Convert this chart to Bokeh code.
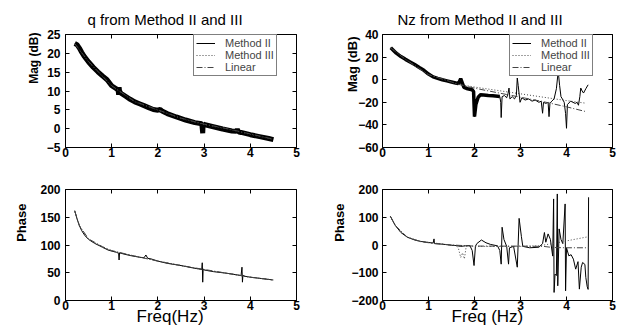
import math
from bokeh.plotting import figure
from bokeh.layouts import gridplot
from bokeh.models import (Legend, LegendItem, LinearAxis, Title, FixedTicker,
                          Range1d)
from bokeh.embed import file_html
from bokeh.resources import INLINE

FONT = "Liberation Sans"

# ---------------- data ----------------
freq_ticks = [0, 1, 2, 3, 4, 5]
q_mag_ticks = [-5, 0, 5, 10, 15, 20, 25]
nz_mag_ticks = [-60, -40, -20, 0, 20, 40]
q_ph_ticks = [0, 50, 100, 150, 200]
nz_ph_ticks = [-200, -100, 0, 100, 200]

# q magnitude (dB)
q_mag_f2 = [0.20, 0.25, 0.30, 0.35, 0.40, 0.50, 0.60, 0.70, 0.80, 0.90, 1.00,
            1.10, 1.14, 1.15, 1.16, 1.17, 1.20, 1.30, 1.40, 1.50, 1.60, 1.70,
            1.80, 1.90, 2.00, 2.05, 2.10, 2.20, 2.40, 2.60, 2.80, 2.95, 2.97,
            2.98, 3.00, 3.20, 3.40, 3.60, 3.70, 3.72, 3.75, 3.80, 4.00, 4.20,
            4.40, 4.50]
q_mag_m2 = [22.6, 22.3, 21.4, 20.3, 19.3, 17.7, 16.3, 15.1, 14.0, 13.0, 11.4,
            10.6, 10.2, 9.0, 11.0, 10.0, 9.4, 8.6, 7.8, 7.1, 6.6, 6.1,
            5.6, 5.1, 4.9, 5.1, 4.6, 4.0, 3.1, 2.3, 1.6, 1.3, -1.2,
            1.3, 1.1, 0.5, -0.1, -0.6, -0.7, -0.2, -0.9, -1.0, -1.6, -2.1,
            -2.6, -2.9]
q_mag_f3 = [0.2, 0.5, 1.0, 1.5, 2.0, 2.5, 3.0, 3.5, 4.0, 4.5]
q_mag_m3 = [22.5, 17.7, 11.3, 7.1, 4.9, 2.7, 1.1, -0.1, -1.5, -2.9]
q_mag_lin = [22.6, 17.8, 11.4, 7.2, 5.0, 2.8, 1.2, 0.0, -1.4, -2.8]

# Nz magnitude (dB)
nz_mag_f2 = [0.18, 0.25, 0.30, 0.40, 0.50, 0.60, 0.70, 0.80, 0.90, 1.00, 1.10,
             1.20, 1.30, 1.40, 1.50, 1.59, 1.65, 1.70, 1.77, 1.85, 1.95, 1.98,
             2.00, 2.03, 2.08, 2.13, 2.20, 2.30, 2.40, 2.50, 2.55,
             2.57, 2.58, 2.60, 2.65, 2.70, 2.73, 2.75, 2.77, 2.82, 2.87, 2.91,
             2.93, 2.95, 2.99, 3.03, 3.10, 3.18, 3.25, 3.32, 3.40, 3.45, 3.48,
             3.50, 3.55, 3.60, 3.62, 3.64, 3.68, 3.73, 3.78, 3.82, 3.85, 3.88,
             3.91, 3.95, 3.98, 4.00, 4.02, 4.09, 4.14, 4.19, 4.23, 4.26, 4.29,
             4.31, 4.34, 4.37, 4.42, 4.47]
nz_mag_m2 = [28.3, 25.5, 23.5, 20.5, 18.0, 15.7, 13.4, 10.8, 8.3, 5.0, 2.5,
             1.2, 0.0, -1.0, -2.0, -2.9, -3.5, 0.9, -6.8, -8.0, -8.9, -10.5,
             -32.7, -22.0, -15.5, -13.4, -13.6, -14.0, -14.3, -14.6, -14.8,
             -20.0, -33.5, -15.0, -14.0, -16.0, -12.0, -7.4, -17.0, -15.0, -17.0, -14.0,
             1.5, -5.0, -20.0, -16.0, -18.0, -17.0, -19.0, -18.0, -20.0, -19.0, -29.7,
             -20.0, -21.0, -20.0, -32.7, -21.0, -19.0, -17.0, -8.0, 7.5, -5.0, -15.0,
             -17.0, -20.0, -30.0, -43.0, -22.0, -19.0, -20.0, -21.0, -20.0, -22.6, -15.0,
             -7.4, -10.0, -11.8, -8.0, -4.5]
nz_thick_n = 31  # smooth, densely-sampled leading part of Method II
nz_mag_f3 = [0.18, 0.50, 1.00, 1.50, 1.62, 2.00, 2.50, 3.00, 3.50, 4.00, 4.42]
nz_mag_m3 = [28.0, 18.0, 4.5, -2.0, -3.8, -6.5, -9.5, -12.5, -15.5, -18.5, -20.8]
nz_mag_lin = [28.0, 18.0, 4.5, -2.0, -3.8, -7.5, -11.5, -15.5, -19.5, -24.0, -28.2]

# q phase (deg)
q_ph_f2 = [0.20, 0.25, 0.30, 0.35, 0.42, 0.50, 0.63, 0.80, 0.92, 1.00, 1.10,
           1.15, 1.16, 1.17, 1.25, 1.40, 1.60, 1.70, 1.74, 1.78, 1.85, 2.00,
           2.20, 2.50, 2.80, 2.95, 2.96, 2.97, 2.98, 3.00, 3.20, 3.50, 3.80,
           3.82, 3.83, 3.84, 3.86, 4.00, 4.20, 4.40, 4.48]
q_ph_m2 = [162, 147, 135, 126, 117, 110, 103, 96, 91, 89, 87,
           85, 73, 86, 84, 81, 78, 77, 82, 76, 75, 71,
           67, 63, 58, 56, 68, 33, 57, 55, 52, 49, 45,
           60, 33, 46, 44, 42, 40, 38, 37]
q_ph_f3 = [0.2, 0.3, 0.5, 0.8, 1.0, 1.5, 2.0, 2.5, 3.0, 3.5, 4.0, 4.5]
q_ph_m3 = [160, 134, 110, 96, 89, 80, 71, 63, 55, 49, 42, 37]
q_ph_lin = [161, 135, 111, 97, 90, 80, 71, 63, 56, 49, 42, 37]

# Nz phase (deg)
nz_ph_f2 = [0.17, 0.22, 0.28, 0.40, 0.54, 0.70, 0.83, 1.00, 1.10, 1.12, 1.13,
            1.30, 1.41, 1.50, 1.60, 1.70, 1.80, 1.90, 1.95, 1.99, 2.02, 2.05,
            2.15, 2.25, 2.35, 2.50, 2.55, 2.58, 2.60, 2.64, 2.70, 2.74, 2.76,
            2.85, 2.93, 2.97, 3.02, 3.05, 3.20, 3.40, 3.48, 3.52, 3.55, 3.60,
            3.65, 3.70, 3.72, 3.73, 3.75, 3.78, 3.80, 3.81, 3.84, 3.88, 3.92,
            3.97, 3.98, 4.00, 4.05, 4.10, 4.15, 4.20, 4.25, 4.28, 4.32, 4.35,
            4.40, 4.42, 4.45, 4.47, 4.48]
nz_ph_m2 = [104, 88, 70, 45, 28, 18, 13, 9, 7, 22, 5,
            3, 1, -1, -2, -5, -3, -2, -20, -74, -5, 5,
            18, 8, 2, -3, -20, -69, 64, 20, -5, -69, -10,
            -5, -80, 96, 30, -5, -10, -8, 5, 45, 10, 40,
            20, -40, 166, -171, -105, -110, 184, -147, 58, 20, 5,
            148, -165, -10, -39, -35, -51, -87, -60, -159, -80, -63,
            -70, -117, -150, -160, 172]
nz_ph_f3 = [0.17, 0.28, 0.54, 0.83, 1.10, 1.40, 1.60, 1.65, 1.70, 1.74, 1.78,
            1.82, 1.90, 2.20, 2.60, 3.00, 3.40, 3.80, 4.10, 4.48]
nz_ph_m3 = [103, 69, 28, 13, 8, 1, -2, -12, -45, -28, -50,
            -5, -4, -5, -5, -5, -3, 8, 18, 30]
nz_ph_flin = [0.17, 0.28, 0.54, 0.83, 1.10, 1.50, 2.00, 2.50, 3.00, 3.50, 3.70,
              4.00, 4.48]
nz_ph_lin = [104, 70, 28, 12, 6, 0, -4, -4, -4, -5, -9, -10, -10]

# ---------------- styling helpers ----------------
DOT = "1 2"
DASHDOT = "6 2 1 2"
GREY = "#444444"


def tick_axis(ticks):
    # label-less axis used only to draw MATLAB-style inward box ticks
    return LinearAxis(ticker=FixedTicker(ticks=ticks), axis_line_color=None,
                      major_tick_in=4, major_tick_out=0,
                      minor_tick_line_color=None,
                      major_label_text_font_size="1px",
                      major_label_text_color=None, major_label_standoff=0)


def make_fig(w, h, yr, yticks, left, right, top, bottom, standoff):
    p = figure(width=w, height=h, x_range=Range1d(0, 5), y_range=Range1d(*yr),
               output_backend="svg", toolbar_location=None,
               min_border_left=left, min_border_right=right,
               min_border_top=top, min_border_bottom=bottom)
    p.grid.visible = False
    p.outline_line_color = "black"
    p.outline_line_width = 1
    p.outline_line_alpha = 1
    p.background_fill_color = "white"
    p.border_fill_color = "white"
    p.xaxis.ticker = FixedTicker(ticks=freq_ticks)
    p.yaxis.ticker = FixedTicker(ticks=yticks)
    for ax in (p.xaxis[0], p.yaxis[0]):
        ax.axis_line_color = None
        ax.major_tick_in = 4
        ax.major_tick_out = 0
        ax.minor_tick_line_color = None
        ax.major_label_text_font = FONT
        ax.major_label_text_font_style = "bold"
        ax.major_label_text_font_size = "12px"
        ax.major_label_text_color = "black"
    p.xaxis.major_label_standoff = 0
    p.yaxis.major_label_standoff = standoff
    p.add_layout(tick_axis(yticks), "right")
    p.add_layout(tick_axis(freq_ticks), "above")
    return p


def set_title(p, text, offset):
    p.title.text = text
    p.title.align = "left"
    p.title.offset = offset
    p.title.text_font = FONT
    p.title.text_font_style = "normal"
    p.title.text_font_size = "15px"
    p.title.text_color = "black"
    p.title.standoff = 14


def ylabel(p, text, size, standoff, offset):
    p.add_layout(Title(text=text, align="right", offset=offset,
                       standoff=standoff, text_font=FONT,
                       text_font_style="bold", text_font_size=size,
                       text_color="black"), "left")


def xlabel(p, text, offset, standoff):
    p.add_layout(Title(text=text, align="left", offset=offset,
                       standoff=standoff, text_font=FONT,
                       text_font_style="normal", text_font_size="17px",
                       text_color="black"), "below")


def add_legend(p, rends, loc):
    items = [LegendItem(label=lab, renderers=[r]) for lab, r in
             zip(["Method II", "Method III", "Linear"], rends)]
    lg = Legend(items=items, location=loc, label_text_font=FONT,
                label_text_font_size="11px", label_text_line_height=0.8,
                label_height=8, glyph_height=8,
                glyph_width=19, label_standoff=10, spacing=0, padding=2,
                margin=0, border_line_color="black", border_line_width=1,
                background_fill_color="white", background_fill_alpha=1)
    p.add_layout(lg, "center")


# ---------------- q magnitude ----------------
p1 = make_fig(309, 166, (-5, 25), q_mag_ticks, 65, 12, 34, 19, 5)
set_title(p1, "q from Method II and III", 22)
r2 = p1.line(q_mag_f2, q_mag_m2, line_color="black", line_width=5)
r3 = p1.line(q_mag_f3, q_mag_m3, line_color=GREY, line_width=1, line_dash=DOT)
rl = p1.line(q_mag_f3, q_mag_lin, line_color=GREY, line_width=1, line_dash=DASHDOT)
leg_r2 = p1.line(q_mag_f3[:1], q_mag_m3[:1], line_color="black", line_width=1, visible=False)
add_legend(p1, [leg_r2, r3, rl], (128, 71))
ylabel(p1, "Mag (dB)", "12px", 6, -2)

# ---------------- Nz magnitude ----------------
p2 = make_fig(310, 166, (-60, 40), nz_mag_ticks, 73, 7, 34, 19, 4)
set_title(p2, "Nz from Method II and III", 15)
p2.line(nz_mag_f2[:nz_thick_n], nz_mag_m2[:nz_thick_n], line_color="black", line_width=3.5)
s2 = p2.line(nz_mag_f2, nz_mag_m2, line_color="black", line_width=1)
s3 = p2.line(nz_mag_f3, nz_mag_m3, line_color=GREY, line_width=1, line_dash=DOT)
sl = p2.line(nz_mag_f3, nz_mag_lin, line_color=GREY, line_width=1, line_dash=DASHDOT)
add_legend(p2, [s2, s3, sl], (127, 71))
ylabel(p2, "Mag (dB)", "13px", -8, 2)

# ---------------- q phase ----------------
p3 = make_fig(309, 167, (0, 200), q_ph_ticks, 64, 13, 23, 33, 5)
p3.line(q_ph_f2, q_ph_m2, line_color="black", line_width=1)
p3.line(q_ph_f3, q_ph_m3, line_color=GREY, line_width=1, line_dash=DOT)
p3.line(q_ph_f3, q_ph_lin, line_color=GREY, line_width=1, line_dash=DASHDOT)
ylabel(p3, "Phase", "13px", 17, 14)
xlabel(p3, "Freq(Hz)", 71, -16)

# ---------------- Nz phase ----------------
p4 = make_fig(310, 167, (-200, 200), nz_ph_ticks, 73, 7, 23, 33, 4)
p4.line(nz_ph_f2, nz_ph_m2, line_color="black", line_width=1)
p4.line(nz_ph_f3, nz_ph_m3, line_color=GREY, line_width=1, line_dash=DOT)
p4.line(nz_ph_flin, nz_ph_lin, line_color=GREY, line_width=1, line_dash=DASHDOT)
ylabel(p4, "Phase", "13px", 4, 14)
xlabel(p4, "Freq (Hz)", 69, -16)

grid = gridplot([[p1, p2], [p3, p4]], toolbar_location=None)

open("out.html", "w").write(file_html(grid, INLINE))
